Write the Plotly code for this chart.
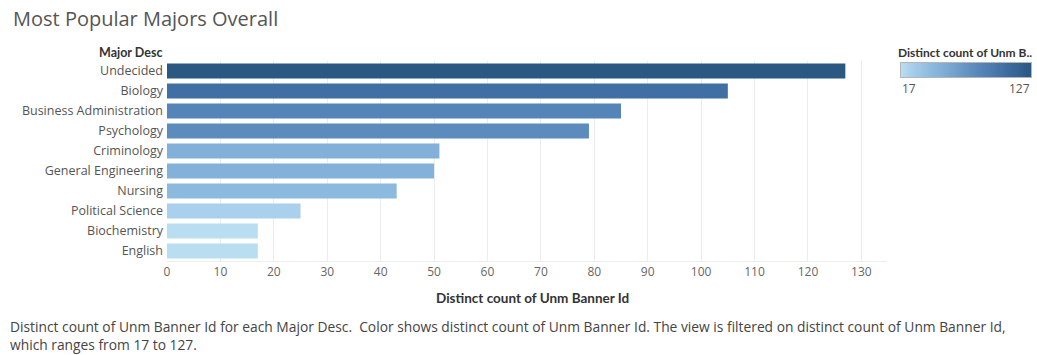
import plotly.graph_objects as go

# Majors and their distinct student counts (top to bottom)
majors = [
    "Undecided", "Biology", "Business Administration", "Psychology",
    "Criminology", "General Engineering", "Nursing", "Political Science",
    "Biochemistry", "English",
]
counts = [127, 105, 85, 79, 51, 50, 43, 25, 17, 17]
x_ticks = list(range(0, 131, 10))

cmin, cmax = min(counts), max(counts)
blues = [
    [0.0, "#b9ddf1"], [0.07, "#a9d0ec"], [0.24, "#8bb8de"], [0.31, "#82b0d8"],
    [0.56, "#5b8cbd"], [0.62, "#5584b9"], [0.80, "#3f6fa3"], [1.0, "#2b5783"],
]

W, H = 1037, 355
SANS = "Open Sans, sans-serif"
LATO = "Lato, sans-serif"


def px_x(x):
    return x / W


def px_y(y):
    return (H - y) / H


fig = go.Figure()

fig.add_trace(
    go.Bar(
        x=counts,
        y=majors,
        orientation="h",
        marker=dict(color=counts, colorscale=blues, cmin=cmin, cmax=cmax,
                    line=dict(width=0), showscale=False),
        hovertemplate="%{y}: %{x}<extra></extra>",
        xaxis="x", yaxis="y",
    )
)

# Colour legend: a one-row gradient strip spanning the colour range
fig.add_trace(
    go.Heatmap(
        z=[list(range(cmin, cmax + 1))],
        colorscale=blues, zmin=cmin, zmax=cmax,
        showscale=False, hoverinfo="skip",
        xaxis="x2", yaxis="y2",
    )
)

fig.update_layout(
    width=W,
    height=H,
    margin=dict(l=0, r=0, t=0, b=0),
    paper_bgcolor="white",
    plot_bgcolor="white",
    bargap=0.25,
    showlegend=False,
    font=dict(family=SANS, size=12, color="#555555"),
    xaxis=dict(
        domain=[px_x(167), px_x(887)],
        anchor="y",
        range=[0, 134.8],
        tickvals=x_ticks,
        showgrid=True,
        gridcolor="#ececec",
        gridwidth=1,
        zeroline=False,
        showline=True,
        linecolor="#eeeeee",
        ticks="",
        automargin=False,
        tickfont=dict(size=12, color="#666666", family=SANS),
    ),
    yaxis=dict(
        domain=[px_y(261), px_y(61)],
        anchor="x",
        autorange="reversed",
        showgrid=False,
        zeroline=False,
        ticks="",
        automargin=False,
        ticklabelstandoff=3,
        tickfont=dict(size=12.5, color="#555555", family=SANS),
    ),
    xaxis2=dict(
        domain=[px_x(901), px_x(1031)],
        anchor="y2",
        showticklabels=False, showgrid=False, zeroline=False, ticks="",
        showline=True, mirror=True, linecolor="#b5b5b5", linewidth=1,
        automargin=False,
    ),
    yaxis2=dict(
        domain=[px_y(77), px_y(63)],
        anchor="x2",
        showticklabels=False, showgrid=False, zeroline=False, ticks="",
        showline=True, mirror=True, linecolor="#b5b5b5", linewidth=1,
        automargin=False,
    ),
    annotations=[
        dict(
            text="Most Popular Majors Overall",
            xref="paper", yref="paper",
            x=px_x(11), y=px_y(18),
            xanchor="left", yanchor="middle",
            showarrow=False,
            font=dict(size=20, color="#555555", family=SANS),
        ),
        dict(
            text="<b>Major Desc</b>",
            xref="paper", yref="paper",
            x=px_x(164), y=px_y(52),
            xanchor="right", yanchor="middle",
            showarrow=False,
            font=dict(size=12.5, color="#333333", family=LATO),
        ),
        dict(
            text="<b>Distinct count of Unm Banner Id</b>",
            xref="paper", yref="paper",
            x=px_x(532), y=px_y(298),
            xanchor="center", yanchor="middle",
            showarrow=False,
            font=dict(size=13.5, color="#333333", family=LATO),
        ),
        dict(
            text="<b>Distinct count of Unm B..</b>",
            xref="paper", yref="paper",
            x=px_x(896), y=px_y(52),
            xanchor="left", yanchor="middle",
            showarrow=False,
            font=dict(size=12, color="#333333", family=LATO),
        ),
        dict(
            text=str(cmin),
            xref="paper", yref="paper",
            x=px_x(900), y=px_y(88),
            xanchor="left", yanchor="middle",
            showarrow=False,
            font=dict(size=12, color="#555555", family=SANS),
        ),
        dict(
            text=str(cmax),
            xref="paper", yref="paper",
            x=px_x(1032), y=px_y(88),
            xanchor="right", yanchor="middle",
            showarrow=False,
            font=dict(size=12, color="#555555", family=SANS),
        ),
        dict(
            text=(
                "Distinct count of Unm Banner Id for each Major Desc.  Color shows distinct count of "
                "Unm Banner Id. The view is filtered on distinct count of Unm Banner Id,<br>"
                "which ranges from 17 to 127."
            ),
            xref="paper", yref="paper",
            x=px_x(8), y=px_y(335),
            xanchor="left", yanchor="middle",
            align="left",
            showarrow=False,
            font=dict(size=13.8, color="#444444", family=SANS),
        ),
    ],
)

fig.write_html("out.html")
